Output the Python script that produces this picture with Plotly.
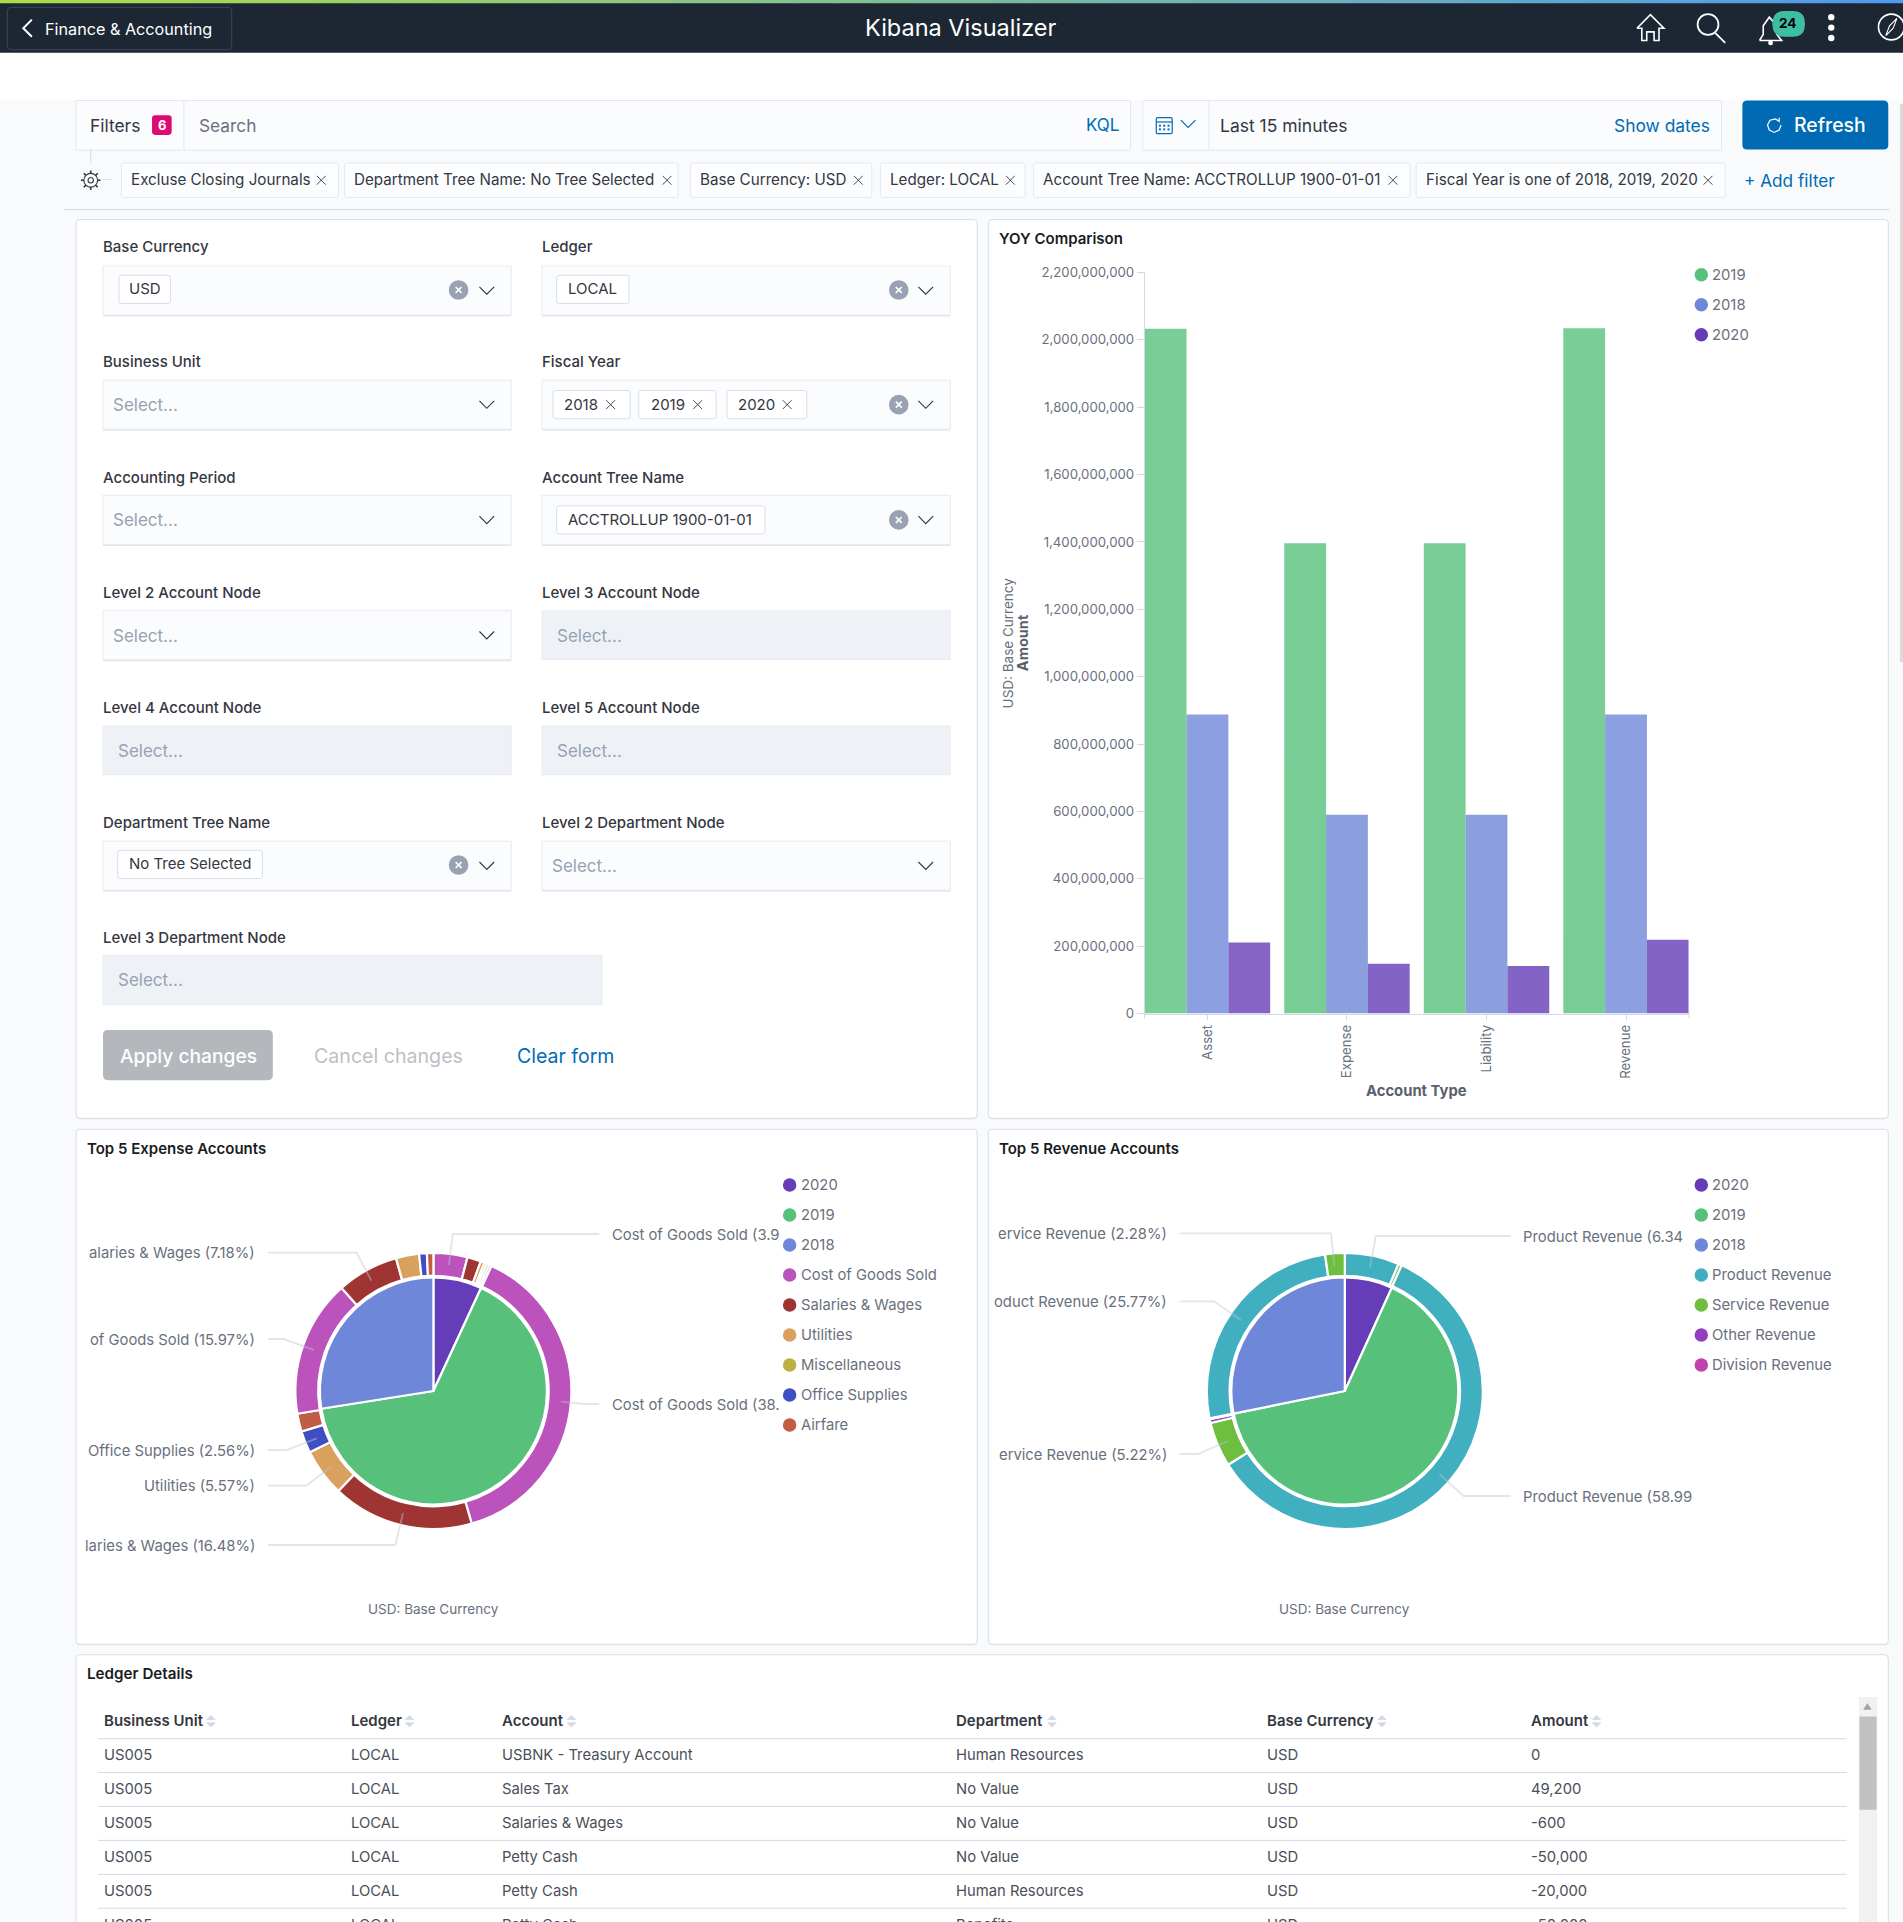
import plotly.graph_objects as go

# ---------- chart data ----------
account_types = ["Asset", "Expense", "Liability", "Revenue"]
years_bar = ["2019", "2018", "2020"]
amount_2019 = [2033000000, 1396000000, 1396000000, 2034000000]
amount_2018 = [888000000, 590000000, 590000000, 888000000]
amount_2020 = [211000000, 148000000, 141000000, 219000000]
y_ticks = list(range(0, 2200000001, 200000000))

pie_years = ["2020", "2019", "2018"]
expense_year_share = [6.9, 65.6, 27.5]
expense_ring_labels = ["2020 Cost of Goods Sold", "2020 Salaries & Wages", "2020 Utilities", "2020 Miscellaneous", "2020 Office Supplies", "2020 Airfare",
                       "2019 Cost of Goods Sold", "2019 Salaries & Wages", "2019 Utilities", "2019 Office Supplies", "2019 Airfare",
                       "2018 Cost of Goods Sold", "2018 Salaries & Wages", "2018 Utilities", "2018 Office Supplies", "2018 Airfare"]
expense_ring_values = [3.95, 1.6, 0.45, 0.3, 0.3, 0.3, 38.4, 16.48, 5.57, 2.56, 2.1, 15.97, 7.18, 2.7, 0.9, 0.75]
expense_ring_kinds = ["Cost of Goods Sold", "Salaries & Wages", "Utilities", "Miscellaneous", "Office Supplies", "Airfare",
                      "Cost of Goods Sold", "Salaries & Wages", "Utilities", "Office Supplies", "Airfare",
                      "Cost of Goods Sold", "Salaries & Wages", "Utilities", "Office Supplies", "Airfare"]
revenue_year_share = [6.8, 65.0, 28.2]
revenue_ring_labels = ["2020 Product Revenue", "2020 Service Revenue", "2019 Product Revenue", "2019 Service Revenue", "2019 Other Revenue",
                       "2019 Division Revenue", "2018 Product Revenue", "2018 Service Revenue"]
revenue_ring_values = [6.34, 0.4, 58.99, 5.22, 0.45, 0.1, 25.77, 2.28]
revenue_ring_kinds = ["Product Revenue", "Service Revenue", "Product Revenue", "Service Revenue", "Other Revenue", "Division Revenue", "Product Revenue", "Service Revenue"]

ledger_headers = ["Business Unit", "Ledger", "Account", "Department", "Base Currency", "Amount"]
ledger_bu = ["US005"] * 6
ledger_ledger = ["LOCAL"] * 6
ledger_account = ["USBNK - Treasury Account", "Sales Tax", "Salaries & Wages", "Petty Cash", "Petty Cash", "Petty Cash"]
ledger_dept = ["Human Resources", "No Value", "No Value", "No Value", "Human Resources", "Benefits"]
ledger_cur = ["USD"] * 6
ledger_amount = ["0", "49,200", "-600", "-50,000", "-20,000", "-50,000"]

year_colors = {"2019": "#57C17B", "2018": "#6F87D8", "2020": "#663DB8"}
kind_colors = {"Cost of Goods Sold": "#BC52BC", "Salaries & Wages": "#9E3533", "Utilities": "#DAA05D", "Miscellaneous": "#BFAF40",
               "Office Supplies": "#3F4FC3", "Airfare": "#C15C45", "Product Revenue": "#40AFC0", "Service Revenue": "#6EBE40",
               "Other Revenue": "#9240BF", "Division Revenue": "#C040AC"}

# ---------- page geometry helpers (units: reference px scaled by F) ----------
W, H = 1903, 1922
F = W / 1552
FONT = "Inter"
px = lambda x: x * F / W
py = lambda y: 1 - y * F / H
shapes, notes = [], []

def T(x, y, text, size=15, color="#343741", anchor="left", weight=400):
    notes.append(dict(x=px(x), y=py(y - 0.5), xref="paper", yref="paper", text=text, showarrow=False, xanchor=anchor, yanchor="middle",
                      font=dict(family=FONT, size=size, color=color, weight=weight), borderpad=0, borderwidth=0, align=anchor))

def R(x0, y0, x1, y1, fill, line=None, lw=1, r=0, layer="below"):
    if r == 0:
        shapes.append(dict(type="rect", xref="paper", yref="paper", x0=px(x0), x1=px(x1), y0=py(y0), y1=py(y1), fillcolor=fill,
                           line=dict(color=line or "rgba(0,0,0,0)", width=lw if line else 0), layer=layer))
    else:
        p = (f"M {px(x0+r)} {py(y0)} L {px(x1-r)} {py(y0)} Q {px(x1)} {py(y0)} {px(x1)} {py(y0+r)} L {px(x1)} {py(y1-r)} "
             f"Q {px(x1)} {py(y1)} {px(x1-r)} {py(y1)} L {px(x0+r)} {py(y1)} Q {px(x0)} {py(y1)} {px(x0)} {py(y1-r)} "
             f"L {px(x0)} {py(y0+r)} Q {px(x0)} {py(y0)} {px(x0+r)} {py(y0)} Z")
        shapes.append(dict(type="path", xref="paper", yref="paper", path=p, fillcolor=fill,
                           line=dict(color=line or "rgba(0,0,0,0)", width=lw if line else 0), layer=layer))

def L(points, color="#FFFFFF", lw=1.5, layer="below", fill=None, close=False):
    p = "M " + " L ".join(f"{px(a)} {py(b)}" for a, b in points) + (" Z" if close else "")
    shapes.append(dict(type="path", xref="paper", yref="paper", path=p, line=dict(color=color, width=lw), layer=layer,
                       fillcolor=fill or "rgba(0,0,0,0)"))

def C(cx, cy, r, fill, line=None, lw=1, layer="below"):
    shapes.append(dict(type="circle", xref="paper", yref="paper", x0=px(cx - r), x1=px(cx + r), y0=py(cy + r), y1=py(cy - r), fillcolor=fill,
                       line=dict(color=line or "rgba(0,0,0,0)", width=lw if line else 0), layer=layer))

def X(cx, cy, s, color="#343741", lw=1):
    L([(cx - s, cy - s), (cx + s, cy + s)], color, lw)
    L([(cx - s, cy + s), (cx + s, cy - s)], color, lw)

def CHEV(cx, cy, color="#343741"):
    L([(cx - 6, cy - 3), (cx, cy + 3), (cx + 6, cy - 3)], color, 1.15)

# ---------- page chrome ----------
PAGE = "#F9FAFC"
R(0, 43, 1552, 82, "#FFFFFF")
R(0, 0, 1552, 43, "#1D2734")
steps = 48
for i in range(steps):
    t = i / (steps - 1)
    c = (int(172 + (80 - 172) * t), int(221 + (155 - 221) * t), int(72 + (238 - 72) * t))
    R(i * 1552 / steps, 0, (i + 1) * 1552 / steps + 0.5, 2.6, f"rgb{c}")
R(6, 6, 189, 40.5, "rgba(0,0,0,0)", "#3B4654", 1, 3)
L([(26, 16), (19, 23), (26, 30)], "#FFFFFF", 2)
T(37, 24, "Finance &amp; Accounting", 16.2, "#FFFFFF")
T(783, 23, "Kibana Visualizer", 23.5, "#FFFFFF", "center")
# home
L([(1335, 23), (1346, 12), (1357, 23), (1353, 23), (1353, 33), (1349, 33), (1349, 26), (1343, 26), (1343, 33), (1339, 33), (1339, 23), (1335, 23)], "#FFFFFF", 1.6)
# search
C(1393, 20, 8.5, "rgba(0,0,0,0)", "#FFFFFF", 1.8)
L([(1399, 27), (1407, 35)], "#FFFFFF", 1.8)
# bell
L([(1435, 33), (1438, 28), (1438, 21), (1443, 14), (1449, 21), (1449, 28), (1453, 33), (1435, 33)], "#FFFFFF", 1.6)
C(1444, 35, 2, "#FFFFFF")
R(1445.5, 9, 1472, 30, "#3DBEA0", None, 1, 10)
T(1458, 19.5, "24", 13.5, "#000000", "center", 700)
for yy in (14, 22.5, 31):
    C(1493.5, yy, 2.6, "#FFFFFF")
C(1542.5, 22, 10.5, "rgba(0,0,0,0)", "#FFFFFF", 1.6)
L([(1538, 29), (1541, 21), (1547, 15), (1544, 23), (1538, 29)], "#FFFFFF", 1.1)

# query bar
R(62, 82, 922, 122.5, "#FBFCFD", "#E4E8EE", 1)
L([(150, 82), (150, 122)], "#E4E8EE", 1)
T(73, 102.5, "Filters", 17.4, "#343741")
R(124, 94, 140, 110, "#DD0A73", None, 1, 2.5)
T(132, 102.5, "6", 13, "#FFFFFF", "center", 700)
T(162, 103, "Search", 17.3, "#69707D")
T(912.5, 102.5, "KQL", 17, "#006BB4", "right")
R(932, 82, 1404, 122.5, "#FBFCFD", "#E4E8EE", 1)
L([(986, 82), (986, 122)], "#E4E8EE", 1)
R(943, 96, 956, 109, "rgba(0,0,0,0)", "#006BB4", 1.2, 1)
L([(943, 99.5), (956, 99.5)], "#006BB4", 1.2)
for gx in (946, 949.5, 953):
    for gy in (102.5, 105.5):
        R(gx - 0.8, gy - 0.8, gx + 0.8, gy + 0.8, "#006BB4")
CHEV(969, 101, "#006BB4")
T(995, 103, "Last 15 minutes", 17.5, "#343741")
T(1395, 103, "Show dates", 17.4, "#006BB4", "right")
R(1421, 82, 1540, 122, "#006BB4", None, 1, 4)
L([(1451, 96), (1451, 99), (1448, 97), (1443.5, 98), (1441.5, 102), (1443, 106), (1447, 108), (1451, 106), (1452.5, 102)], "#FFFFFF", 1.2)
T(1463, 102.5, "Refresh", 19.4, "#FFFFFF", "left", 500)

# filter pills
pill_text = ["Excluse Closing Journals", "Department Tree Name: No Tree Selected", "Base Currency: USD", "Ledger: LOCAL",
             "Account Tree Name: ACCTROLLUP 1900-01-01", "Fiscal Year is one of 2018, 2019, 2020"]
pill_x0 = [99, 281, 563, 718, 843, 1155]
pill_x1 = [276, 553, 711, 836, 1150, 1407]
pill_close = [262, 544, 700, 824, 1136, 1393]
for t_, a, b, m in zip(pill_text, pill_x0, pill_x1, pill_close):
    R(a, 133, b, 161, "#FCFDFE", "#E4E8EE", 1, 2)
    T(a + 8, 147, t_, 15.2, "#343741")
    X(m, 147, 3.6, "#343741", 0.9)
T(1422, 147.5, "+ Add filter", 17.2, "#006BB4")
L([(74, 122), (74, 133)], "#D3DAE6", 1)
L([(84, 146.5), (91, 146.5)], "#D3DAE6", 1)
C(74, 147, 5.6, "rgba(0,0,0,0)", "#343741", 1.1)
C(74, 147, 2.2, "rgba(0,0,0,0)", "#343741", 1.1)
for a_, b_ in [(0, -1), (0.71, -0.71), (1, 0), (0.71, 0.71), (0, 1), (-0.71, 0.71), (-1, 0), (-0.71, -0.71)]:
    L([(74 + 5.6 * a_, 147 + 5.6 * b_), (74 + 8 * a_, 147 + 8 * b_)], "#343741", 1.6)
L([(52, 171), (1541, 171)], "#D3DAE6", 1)

# panels
for a, b, c, d in [(62, 179, 797, 912), (806, 179, 1540, 912), (62, 921, 797, 1341), (806, 921, 1540, 1341), (62, 1349.5, 1540, 1590)]:
    R(a, b + 1, c, d + 1, "#E9ECF1", None, 1, 3)
    R(a, b, c, d, "#FFFFFF", "#D8DEE8", 1, 3)

# form
LAB = "#343741"
PH = "#98A2B3"
def field(label, x0, x1, ly, y0, y1, disabled=False, placeholder=None, ph_x=None):
    T(x0, ly + 0.7, label, 15, LAB, "left", 500)
    if disabled:
        R(x0, y0, x1, y1, "#EEF2F7", "#E4E8EE", 0.7)
    else:
        R(x0, y0 + 1.2, x1, y1 + 1.2, "#E3E7ED")
        R(x0, y0, x1, y1, "#FBFCFD", "#E6E9EE", 0.9)
        CHEV(x1 - 20, (y0 + y1) / 2)
    if placeholder:
        T(ph_x, (y0 + y1) / 2 + 0.8, placeholder, 17, PH)

def clear_icon(cx, cy):
    C(cx, cy, 8, "#98A2B3")
    X(cx, cy, 2.4, "#FFFFFF", 1.6)

def chip(a, b, cy, text, tx, xmark=None):
    R(a, cy - 11.5, b, cy + 11.5, "#FFFFFF", "#D8DEE8", 1, 2)
    T(tx, cy, text, 15, "#343741")
    if xmark:
        X(xmark, cy, 3.6, "#343741", 0.9)

c1a, c1b, c2a, c2b = 84, 417, 442, 775
field("Base Currency", c1a, c1b, 201, 217, 257)
field("Ledger", c2a, c2b, 201, 217, 257)
field("Business Unit", c1a, c1b, 295, 310, 350, placeholder="Select...", ph_x=92)
field("Fiscal Year", c2a, c2b, 295, 310, 350)
field("Accounting Period", c1a, c1b, 389, 404, 444, placeholder="Select...", ph_x=92)
field("Account Tree Name", c2a, c2b, 389, 404, 444)
field("Level 2 Account Node", c1a, c1b, 483, 498, 538, placeholder="Select...", ph_x=92)
field("Level 3 Account Node", c2a, c2b, 483, 498, 538, True, "Select...", 454)
field("Level 4 Account Node", c1a, c1b, 577, 592, 632, True, "Select...", 96)
field("Level 5 Account Node", c2a, c2b, 577, 592, 632, True, "Select...", 454)
field("Department Tree Name", c1a, c1b, 671, 686, 726)
field("Level 2 Department Node", c2a, c2b, 671, 686, 726, placeholder="Select...", ph_x=450)
field("Level 3 Department Node", c1a, 491, 764, 779, 819.5, True, "Select...", 96)
chip(97, 139, 236, "USD", 105)
chip(454, 513, 236, "LOCAL", 463)
chip(451, 514, 330, "2018", 460, 498)
chip(521, 584, 330, "2019", 531, 569)
chip(593, 658, 330, "2020", 602, 642)
chip(454, 624, 424, "ACCTROLLUP 1900-01-01", 463)
chip(96, 214, 705, "No Tree Selected", 105)
clear_icon(374, 236.5); clear_icon(733, 236.5); clear_icon(733, 330); clear_icon(733, 424); clear_icon(374, 705.5)
R(84, 840, 222.5, 881, "#B4B7BC", None, 1, 4)
T(153.5, 861.5, "Apply changes", 19.2, "#FFFFFF", "center", 500)
T(256, 861.5, "Cancel changes", 19.6, "#BCC0C7")
T(421.5, 861.5, "Clear form", 19.5, "#006BB4")

# chart titles
T(815, 195.3, "YOY Comparison", 15, "#1A1C21", "left", 600)
T(71, 937.5, "Top 5 Expense Accounts", 15, "#1A1C21", "left", 600)
T(815, 937.5, "Top 5 Revenue Accounts", 15, "#1A1C21", "left", 600)
T(71, 1365.5, "Ledger Details", 15.2, "#1A1C21", "left", 600)

# bar axis labels
GR = "#69707D"
T(1155.5, 890.3, "Account Type", 14.8, "#5A616D", "center", 700)
notes.append(dict(x=px(834), y=py(524), xref="paper", yref="paper", text="Amount", textangle=-90, showarrow=False,
                  font=dict(family=FONT, size=14.5, color="#5A616D", weight=700)))
notes.append(dict(x=px(822), y=py(524), xref="paper", yref="paper", text="USD: Base Currency", textangle=-90, showarrow=False,
                  font=dict(family=FONT, size=13.5, color=GR)))
L([(933.4, 826), (933.4, 830.5)], "#D3DAE6", 1)
L([(1377.5, 826), (1377.5, 830.5)], "#D3DAE6", 1)

# legends
def legend(x_dot, ys, names, colors):
    for yy, n, c in zip(ys, names, colors):
        C(x_dot, yy, 5.5, c)
        T(x_dot + 9, yy + 0.8, n, 14.8, GR)

legend(1387.5, [224, 248.5, 273], years_bar, [year_colors[y] for y in years_bar])
ly = [966.5 + 24.45 * i for i in range(9)]
exp_names = pie_years + ["Cost of Goods Sold", "Salaries & Wages", "Utilities", "Miscellaneous", "Office Supplies", "Airfare"]
rev_names = pie_years + ["Product Revenue", "Service Revenue", "Other Revenue", "Division Revenue"]
legend(644, ly, exp_names, [year_colors.get(n) or kind_colors[n] for n in exp_names])
legend(1387.5, ly, rev_names, [year_colors.get(n) or kind_colors[n] for n in rev_names])
T(353.5, 1313, "USD: Base Currency", 13.5, GR, "center")
T(1096.5, 1313, "USD: Base Currency", 13.5, GR, "center")

# pie callouts (points read in 1903-px page space)
def callout(pts, text, side):
    pp = [(a / F, b / F) for a, b in pts]
    L(pp, "rgba(190,197,208,0.45)", 1.9, "above")
    ex, ey = pp[-1]
    if side == "r":
        T(ex + 10, ey + 1, text, 14.8, GR, "left")
    else:
        T(ex - 10.5, ey + 1, text, 14.8, GR, "right")

ez = lambda a, b: (70 + a / 1.742, 1130 + b / 3)
rz = lambda a, b: (990 + a / 1.742, 1130 + b / 3)
callout([ez(660, 405), ez(667, 312), ez(922, 312)], "Cost of Goods Sold (3.9", "r")
callout([ez(525, 452), ez(499, 368), ez(345, 368)], "alaries &amp; Wages (7.18%)", "l")
callout([ez(425, 660), ez(372, 627), ez(345, 627)], "of Goods Sold (15.97%)", "l")
callout([ez(855, 815), ez(895, 822), ez(922, 822)], "Cost of Goods Sold (38.", "r")
callout([ez(430, 925), ez(378, 960), ez(345, 960)], "Office Supplies (2.56%)", "l")
callout([ez(455, 1010), ez(412, 1067), ez(345, 1067)], "Utilities (5.57%)", "l")
callout([ez(580, 1150), ez(567, 1245), ez(345, 1245)], "laries &amp; Wages (16.48%)", "l")
callout([rz(662, 412), rz(672, 318), rz(907, 318)], "Product Revenue (6.34", "r")
callout([rz(600, 408), rz(594, 310), rz(330, 310)], "ervice Revenue (2.28%)", "l")
callout([rz(437, 570), rz(390, 514), rz(330, 514)], "oduct Revenue (25.77%)", "l")
callout([rz(415, 933), rz(362, 972), rz(330, 972)], "ervice Revenue (5.22%)", "l")
callout([rz(783, 1033), rz(825, 1098), rz(907, 1098)], "Product Revenue (58.99", "r")

# ledger table
col_x = [85, 286, 409.5, 780, 1033, 1249]
sort_x = [172, 334, 466, 858, 1127, 1302]
for h, x_, sx in zip(ledger_headers, col_x, sort_x):
    T(x_, 1404, h, 15, "#343741", "left", 600)
    L([(sx - 3.5, 1402.5), (sx, 1399), (sx + 3.5, 1402.5)], "#D3DAE6", 0.8, fill="#D3DAE6", close=True)
    L([(sx - 3.5, 1405), (sx, 1408.5), (sx + 3.5, 1405)], "#D3DAE6", 0.8, fill="#D3DAE6", close=True)
for i, row in enumerate(zip(ledger_bu, ledger_ledger, ledger_account, ledger_dept, ledger_cur, ledger_amount)):
    yy = 1431.7 + 27.75 * i
    for x_, v in zip(col_x, row):
        T(x_, yy, v.replace("&", "&amp;"), 14.8, "#4A4F5A")
    L([(80, 1418 + 27.65 * i), (1506, 1418 + 27.65 * i)], "#D3DAE6", 1)
R(1516, 1384, 1531, 1568, "#F1F1F1")
R(1516.5, 1400, 1530.5, 1476, "#C1C1C1")
L([(1520, 1394), (1523, 1389.5), (1526, 1394)], "#A3A3A3", 0.8, fill="#A3A3A3", close=True)
R(1549.5, 85, 1552, 540, "#DADADA")

# ---------- charts ----------
fig = go.Figure()
for name, vals in zip(years_bar, [amount_2019, amount_2018, amount_2020]):
    fig.add_trace(go.Bar(x=account_types, y=vals, name=name, marker=dict(color=year_colors[name], line=dict(width=0)), opacity=0.8, showlegend=False))

def dom(cx, cy, r):
    return dict(x=[(cx - r) / W, (cx + r) / W], y=[1 - (cy + r) / H, 1 - (cy - r) / H])

line = dict(color="#FFFFFF", width=2.2)
e_cx, r_cx, p_cy = 433.4, 1344.8, 1391
fig.add_trace(go.Pie(labels=expense_ring_labels, values=expense_ring_values, marker=dict(colors=[kind_colors[k] for k in expense_ring_kinds], line=line),
                     hole=0.835, sort=False, direction="clockwise", textinfo="none", domain=dom(e_cx, p_cy, 138), showlegend=False))
fig.add_trace(go.Pie(labels=pie_years, values=expense_year_share, marker=dict(colors=[year_colors[y] for y in pie_years], line=line),
                     sort=False, direction="clockwise", textinfo="none", domain=dom(e_cx, p_cy, 113.5), showlegend=False))
fig.add_trace(go.Pie(labels=revenue_ring_labels, values=revenue_ring_values, marker=dict(colors=[kind_colors[k] for k in revenue_ring_kinds], line=line),
                     hole=0.835, sort=False, direction="clockwise", textinfo="none", domain=dom(r_cx, p_cy, 138), showlegend=False))
fig.add_trace(go.Pie(labels=pie_years, values=revenue_year_share, marker=dict(colors=[year_colors[y] for y in pie_years], line=line),
                     sort=False, direction="clockwise", textinfo="none", domain=dom(r_cx, p_cy, 113.5), showlegend=False))

x_left, x_right, y_top, y_bot = 1144.8, 1688.7, 272.4, 1013.6
fig.update_layout(
    width=W, height=H, autosize=False, margin=dict(l=0, r=0, t=0, b=0, pad=0), paper_bgcolor=PAGE, plot_bgcolor="rgba(0,0,0,0)",
    barmode="group", bargap=0.101, bargroupgap=0, showlegend=False, shapes=shapes, annotations=notes, font=dict(family=FONT),
    xaxis=dict(domain=[x_left / W, x_right / W], range=[-0.449, 3.449], type="category", tickangle=-90, ticks="outside", ticklen=5, tickcolor="#D3DAE6",
               linecolor="#D3DAE6", linewidth=1, showgrid=False, zeroline=False, tickfont=dict(family=FONT, size=13.2, color=GR), categoryorder="array", categoryarray=account_types, automargin=False),
    yaxis=dict(domain=[1 - y_bot / H, 1 - y_top / H], range=[0, 2200000000], tickvals=y_ticks, tickformat=",d", ticks="outside", ticklen=7, tickcolor="#D3DAE6",
               linecolor="#D3DAE6", linewidth=1, showgrid=False, zeroline=False, tickfont=dict(family=FONT, size=13.2, color=GR), automargin=False),
)
fig.write_html("out.html", config=dict(displayModeBar=False),
               post_script="document.documentElement.style.overflow='hidden';document.body.style.margin='0';document.body.style.overflow='hidden';")
